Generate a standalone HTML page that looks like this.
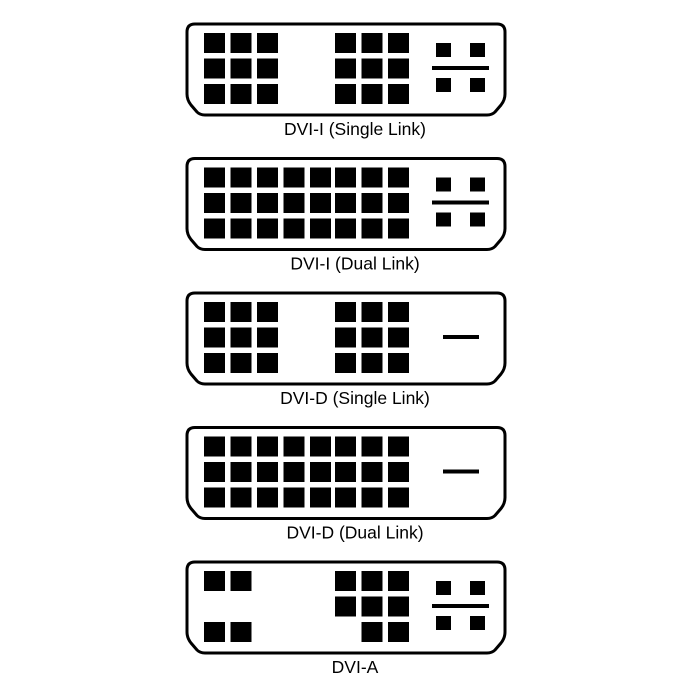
<!DOCTYPE html>
<html><head><meta charset="utf-8"><style>body{margin:0;background:#fff}svg{display:block}</style></head><body>
<svg width="700" height="700" viewBox="0 0 700 700" xmlns="http://www.w3.org/2000/svg">
<defs>
<path id="sh" d="M195,24 H497 Q505,24 505,32 V94 Q505,100 501,105 L495,112 Q492,115 487,115 H205 Q200,115 197,112 L191,105 Q187,100 187,94 V32 Q187,24 195,24 Z" fill="#fff" stroke="#000" stroke-width="3"/>
<g id="analog"><rect x="436" y="43" width="15" height="14"/><rect x="470" y="43" width="15" height="14"/><rect x="436" y="78" width="15" height="14"/><rect x="470" y="78" width="15" height="14"/><rect x="432" y="66" width="57" height="4"/></g>
<g id="l1"><rect x="204" y="33" width="21" height="20"/><rect x="230.5" y="33" width="21" height="20"/><rect x="257" y="33" width="21" height="20"/></g>
<g id="r1"><rect x="335" y="33" width="21" height="20"/><rect x="361.5" y="33" width="21" height="20"/><rect x="388" y="33" width="21" height="20"/></g>
<g id="m1"><rect x="283.5" y="33" width="21" height="20"/><rect x="310" y="33" width="21" height="20"/></g>
<g id="single"><use href="#l1"/><use href="#l1" y="25.5"/><use href="#l1" y="51"/><use href="#r1"/><use href="#r1" y="25.5"/><use href="#r1" y="51"/></g>
<g id="dual"><use href="#single"/><use href="#m1"/><use href="#m1" y="25.5"/><use href="#m1" y="51"/></g>
</defs>
<g font-family="Liberation Sans, sans-serif" font-size="17.5" text-anchor="middle">
<g><use href="#sh"/><use href="#single"/><use href="#analog"/><text x="355" y="135">DVI-I (Single Link)</text></g>
<g transform="translate(0,134.5)"><use href="#sh"/><use href="#dual"/><use href="#analog"/><text x="355" y="135">DVI-I (Dual Link)</text></g>
<g transform="translate(0,269)"><use href="#sh"/><use href="#single"/><rect x="443" y="66" width="36" height="4"/><text x="355" y="135">DVI-D (Single Link)</text></g>
<g transform="translate(0,403.5)"><use href="#sh"/><use href="#dual"/><rect x="443" y="66" width="36" height="4"/><text x="355" y="135">DVI-D (Dual Link)</text></g>
<g transform="translate(0,538)"><use href="#sh"/>
<rect x="204" y="33" width="21" height="20"/><rect x="230.5" y="33" width="21" height="20"/>
<rect x="204" y="84" width="21" height="20"/><rect x="230.5" y="84" width="21" height="20"/>
<use href="#r1"/><use href="#r1" y="25.5"/>
<rect x="361.5" y="84" width="21" height="20"/><rect x="388" y="84" width="21" height="20"/>
<use href="#analog"/><text x="355" y="135">DVI-A</text></g>
</g>
</svg>
</body></html>
